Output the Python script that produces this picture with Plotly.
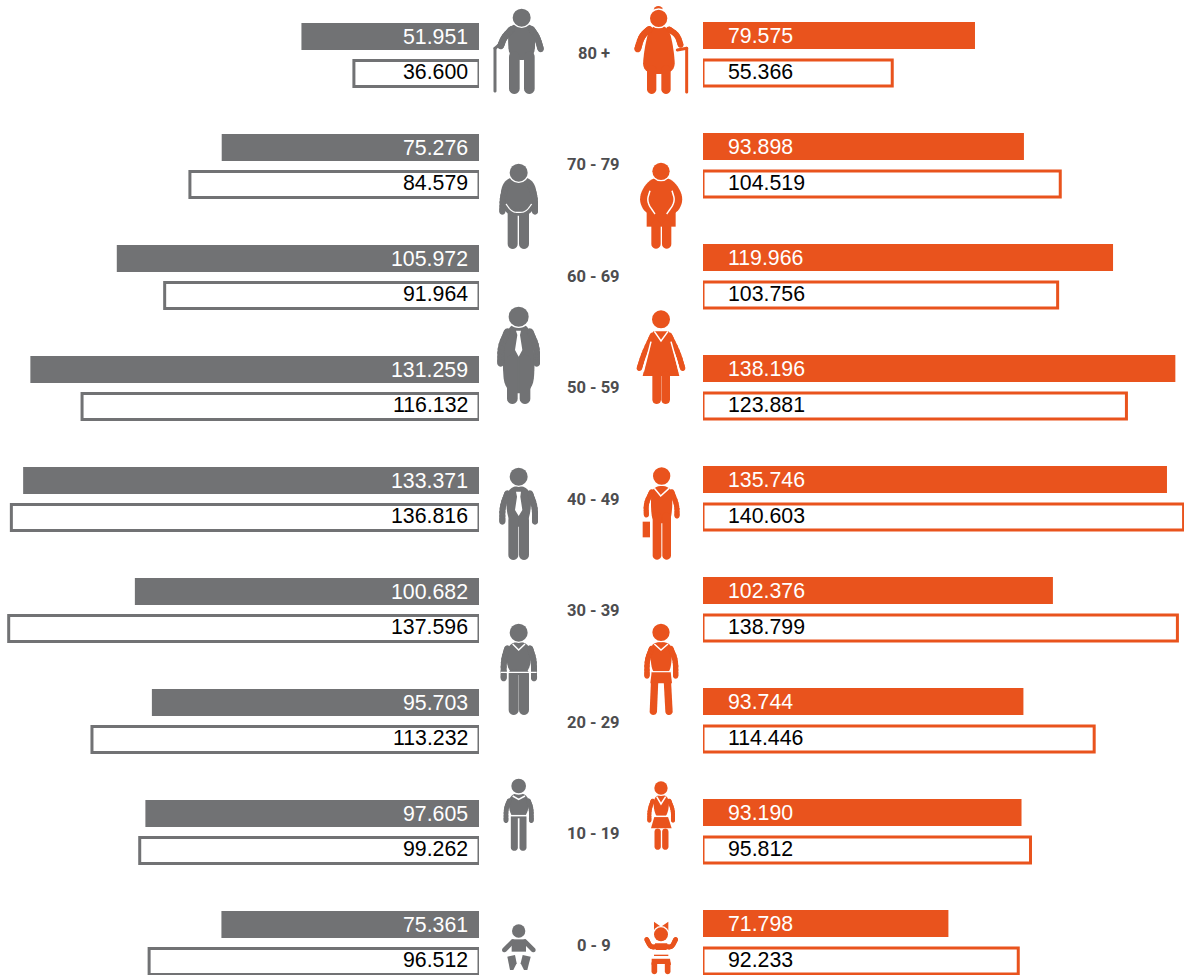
import math
import plotly.graph_objects as go

# ---------- data ----------
age_groups = ["80 +", "70 - 79", "60 - 69", "50 - 59", "40 - 49", "30 - 39", "20 - 29", "10 - 19", "0 - 9"]
male_solid = [51.951, 75.276, 105.972, 131.259, 133.371, 100.682, 95.703, 97.605, 75.361]
male_outline = [36.600, 84.579, 91.964, 116.132, 136.816, 137.596, 113.232, 99.262, 96.512]
female_solid = [79.575, 93.898, 119.966, 138.196, 135.746, 102.376, 93.744, 93.190, 71.798]
female_outline = [55.366, 104.519, 103.756, 123.881, 140.603, 138.799, 114.446, 95.812, 92.233]

GRAY = "#717274"
ORANGE = "#E9531D"
TEXT = "#4D4D4F"
W, H = 1184, 975
PX_PER_UNIT = 3.418
ZERO_L, ZERO_R = 479, 703
ROW, ROW0 = 111, 54.5


def bar(vals, color, outlined, xaxis, centre_px, h_px):
    return go.Bar(
        y=age_groups, x=vals, orientation="h", xaxis=xaxis, yaxis="y",
        width=h_px / ROW, offset=(centre_px - h_px / 2) / ROW,
        marker=dict(color="white" if outlined else color,
                    line=dict(color=color, width=3 if outlined else 0)),
        cliponaxis=False, hoverinfo="x+y", showlegend=False,
    )


fig = go.Figure([
    bar(male_solid, GRAY, False, "x", -18, 27),
    bar(male_outline, GRAY, True, "x", 19, 26),
    bar(female_solid, ORANGE, False, "x2", -19, 27),
    bar(female_outline, ORANGE, True, "x2", 18.5, 26),
])

# ---------- value labels ----------
ann = []
def labels(vals, xref, anchor, xshift, color, yshift):
    for g, v in zip(age_groups, vals):
        ann.append(dict(x=0, y=g, xref=xref, yref="y", text=f"{v:.3f}", showarrow=False,
                        xanchor=anchor, yanchor="middle", xshift=xshift, yshift=yshift,
                        font=dict(family="Liberation Sans", size=21.3, color=color)))

labels(male_solid, "x", "right", -9, "white", 18)
labels(male_outline, "x", "right", -9, "black", -17.5)
labels(female_solid, "x2", "left", 22.5, "white", 18.5)
labels(female_outline, "x2", "left", 22.5, "black", -17.5)

for i, g in enumerate(age_groups):
    ann.append(dict(x=593.5 / W, y=g, xref="paper", yref="y", text=f"<b>{g}</b>", showarrow=False,
                    xanchor="center", yanchor="middle", yshift=1.5 - 0.5 * i,
                    font=dict(family="Roboto", size=16.5, color=TEXT)))

# ---------- pictograms (drawn in 3x zoom coordinates, decoration only) ----------
def X(x): return (470 + x / 3) / W
def Y(y, oy): return 1 - (oy + y / 3) / H

shapes = []

def add_path(pts, oy, fill=None, line=None, lw=0, close=True):
    d = "M" + " L".join(f"{X(x):.5f},{Y(y, oy):.5f}" for x, y in pts) + (" Z" if close else "")
    shapes.append(dict(type="path", xref="paper", yref="paper", path=d,
                       fillcolor=fill if fill else "rgba(0,0,0,0)",
                       line=dict(color=line if line else "rgba(0,0,0,0)", width=lw)))

def circle(cx, cy, r, oy, color):
    shapes.append(dict(type="circle", xref="paper", yref="paper",
                       x0=X(cx - r), x1=X(cx + r), y0=Y(cy + r, oy), y1=Y(cy - r, oy),
                       fillcolor=color, line=dict(width=0)))

def capsule(a, b, w, oy, color):
    ang = math.atan2(b[1] - a[1], b[0] - a[0])
    r = w / 2
    pts = []
    for i in range(11):
        t = ang + math.pi / 2 + math.pi * i / 10
        pts.append((a[0] + r * math.cos(t), a[1] + r * math.sin(t)))
    for i in range(11):
        t = ang - math.pi / 2 + math.pi * i / 10
        pts.append((b[0] + r * math.cos(t), b[1] + r * math.sin(t)))
    add_path(pts, oy, fill=color)

def smooth(pts, closed=True, n=3):
    for _ in range(n):
        out = []
        m = len(pts)
        rng = range(m) if closed else range(m - 1)
        if not closed:
            out.append(pts[0])
        for i in rng:
            a, b = pts[i], pts[(i + 1) % m]
            out.append((0.75 * a[0] + 0.25 * b[0], 0.75 * a[1] + 0.25 * b[1]))
            out.append((0.25 * a[0] + 0.75 * b[0], 0.25 * a[1] + 0.75 * b[1]))
        if not closed:
            out.append(pts[-1])
        pts = out
    return pts

def draw(oy, color, prims):
    for p in prims:
        kind = p[0]
        if kind == "h":  # head with thin white ring
            circle(p[1], p[2], p[3] + 4, oy, "white")
            circle(p[1], p[2], p[3], oy, color)
        elif kind == "c":
            circle(p[1], p[2], p[3], oy, color)
        elif kind == "l":  # limb, smoothed along its bends
            pts, w = p[1], p[2]
            if len(pts) > 2:
                pts = smooth(pts, closed=False, n=2)
            for a, b in zip(pts, pts[1:]):
                capsule(a, b, w, oy, color)
        elif kind == "p":
            add_path(p[1], oy, fill=color)
        elif kind == "s":
            add_path(smooth(p[1]), oy, fill=color)
        elif kind == "wp":
            add_path(p[1], oy, fill="white")
        elif kind == "w":
            pts = p[1]
            if len(pts) > 2 and len(p) > 3:
                pts = smooth(pts, closed=False)
            add_path(pts, oy, line="white", lw=p[2], close=False)

Z1, Z2, Z3 = 0, 260, 600

# 80+
draw(Z1, GRAY, [
    ("s", [(122, 72), (188, 72), (197, 100), (193, 180), (117, 180), (113, 100)]),
    ("l", [(125, 88), (102, 112), (92, 138)], 20),
    ("l", [(185, 88), (202, 112), (212, 147)], 19),
    ("l", [(133, 170), (133, 266)], 32),
    ("l", [(178, 170), (178, 266)], 32),
    ("l", [(75, 145), (75, 273)], 9),
    ("l", [(75, 145), (92, 130)], 9),
    ("h", 155, 53, 27),
])
draw(Z1, ORANGE, [
    ("c", 565, 32, 14),
    ("s", [(540, 76), (595, 76), (612, 150), (616, 222), (517, 222), (522, 150)]),
    ("l", [(538, 88), (515, 108), (503, 147)], 20),
    ("l", [(597, 88), (622, 105), (632, 135)], 17),
    ("l", [(545, 210), (545, 268)], 28),
    ("l", [(588, 210), (588, 268)], 28),
    ("l", [(650, 145), (650, 276)], 9),
    ("l", [(650, 145), (622, 150)], 9),
    ("h", 566, 55, 26),
])
# 70-79
draw(Z1, GRAY, [
    ("s", [(112, 530), (180, 530), (204, 575), (190, 640), (146, 650), (102, 640), (88, 575)]),
    ("l", [(110, 558), (98, 590), (97, 635)], 18),
    ("l", [(182, 558), (195, 590), (195, 635)], 18),
    ("l", [(128, 635), (128, 732)], 30),
    ("l", [(162, 635), (162, 732)], 30),
    ("w", [(108, 612), (125, 635), (146, 638), (168, 635), (185, 612)], 1.2, True),
    ("h", 146, 518, 27),
])
draw(Z1, ORANGE, [
    ("s", [(540, 532), (606, 532), (645, 595), (615, 650), (532, 650), (502, 595)]),
    ("p", [(530, 630), (617, 630), (617, 680), (530, 680)]),
    ("l", [(558, 675), (558, 732)], 28),
    ("l", [(590, 675), (590, 732)], 28),
    ("w", [(540, 572), (530, 605), (555, 642)], 1.5, True),
    ("w", [(606, 572), (616, 605), (590, 642)], 1.5, True),
    ("h", 573, 514, 26),
])
# 50-59
draw(Z2, GRAY, [
    ("s", [(112, 190), (180, 190), (196, 300), (188, 400), (105, 400), (96, 300)]),
    ("l", [(112, 215), (92, 260), (92, 310)], 20),
    ("l", [(180, 215), (200, 260), (200, 310)], 20),
    ("l", [(127, 300), (127, 416)], 32),
    ("l", [(165, 300), (165, 416)], 32),
    ("wp", [(138, 212), (153, 212), (150, 225), (157, 270), (146, 290), (135, 270), (142, 225)]),
    ("h", 146, 170, 30),
])
draw(Z2, ORANGE, [
    ("p", [(550, 214), (596, 214), (628, 348), (518, 348)]),
    ("l", [(548, 225), (522, 280), (508, 325)], 16),
    ("l", [(598, 225), (625, 280), (638, 325)], 16),
    ("l", [(560, 345), (560, 419)], 26),
    ("l", [(587, 345), (587, 419)], 26),
    ("w", [(543, 245), (520, 335)], 1.5),
    ("w", [(603, 245), (628, 335)], 1.5),
    ("w", [(553, 214), (573, 243), (594, 214)], 1.5),
    ("h", 573, 178, 27),
])
# 40-49
draw(Z2, GRAY, [
    ("s", [(105, 678), (187, 678), (178, 800), (114, 800)]),
    ("l", [(112, 700), (97, 740), (97, 785)], 18),
    ("l", [(180, 700), (195, 740), (195, 785)], 18),
    ("l", [(130, 780), (130, 885)], 30),
    ("l", [(162, 780), (162, 885)], 30),
    ("wp", [(138, 695), (153, 695), (151, 710), (157, 750), (146, 768), (135, 750), (141, 710)]),
    ("h", 146, 650, 27),
])
draw(Z2, ORANGE, [
    ("s", [(545, 678), (605, 678), (608, 740), (600, 790), (548, 790), (542, 740)]),
    ("l", [(545, 695), (528, 730), (529, 765)], 15),
    ("l", [(605, 695), (621, 735), (621, 768)], 15),
    ("l", [(561, 770), (561, 886)], 26),
    ("l", [(590, 770), (590, 886)], 26),
    ("p", [(518, 785), (540, 785), (540, 832), (518, 832)]),
    ("w", [(553, 685), (572, 708), (597, 685)], 1.5),
    ("h", 575, 648, 26),
])
# 30-39
draw(Z3, GRAY, [
    ("s", [(108, 126), (185, 126), (180, 225), (112, 225)]),
    ("l", [(112, 145), (101, 180), (101, 235)], 18),
    ("l", [(180, 145), (192, 180), (192, 235)], 18),
    ("l", [(131, 222), (131, 330)], 30),
    ("l", [(162, 222), (162, 330)], 30),
    ("w", [(92, 217), (200, 217)], 1.2),
    ("w", [(128, 132), (146, 150), (165, 132)], 1.5),
    ("h", 146, 98, 27),
])
draw(Z3, ORANGE, [
    ("s", [(545, 126), (602, 126), (607, 170), (598, 225), (549, 225), (540, 170)]),
    ("l", [(545, 145), (531, 180), (531, 228)], 16),
    ("l", [(602, 145), (617, 180), (617, 228)], 16),
    ("p", [(545, 215), (602, 215), (606, 250), (541, 250)]),
    ("l", [(554, 240), (550, 334)], 22),
    ("l", [(592, 240), (597, 334)], 22),
    ("w", [(545, 215), (602, 215)], 1.2),
    ("w", [(553, 132), (573, 150), (594, 132)], 1.5),
    ("h", 573, 97, 26),
])
# 10-19
draw(Z3, GRAY, [
    ("s", [(114, 580), (179, 580), (172, 655), (120, 655)]),
    ("l", [(118, 602), (108, 625), (108, 662)], 14),
    ("l", [(175, 602), (184, 625), (184, 662)], 14),
    ("l", [(133, 650), (133, 742)], 21),
    ("l", [(159, 650), (159, 742)], 21),
    ("w", [(120, 647), (172, 647)], 1.5),
    ("w", [(128, 588), (146, 598), (165, 588)], 1.5),
    ("h", 146, 558, 22),
])
draw(Z3, ORANGE, [
    ("s", [(548, 585), (600, 585), (592, 655), (555, 655)]),
    ("l", [(548, 602), (538, 630), (538, 662)], 12),
    ("l", [(598, 602), (609, 630), (609, 662)], 12),
    ("p", [(553, 650), (594, 650), (605, 685), (543, 685)]),
    ("l", [(563, 695), (563, 740)], 19),
    ("l", [(586, 695), (586, 740)], 19),
    ("w", [(550, 649), (597, 649)], 1.5),
    ("w", [(560, 590), (573, 612), (587, 590)], 1.5),
    ("h", 573, 564, 20),
])
# 0-9
draw(Z3, GRAY, [
    ("p", [(125, 1018), (168, 1018), (168, 1055), (125, 1055)]),
    ("l", [(128, 1025), (103, 1050)], 14),
    ("l", [(165, 1025), (190, 1050)], 14),
    ("p", [(112, 1070), (135, 1065), (140, 1090), (130, 1110), (120, 1110)]),
    ("p", [(158, 1065), (182, 1070), (172, 1110), (162, 1110), (152, 1090)]),
    ("h", 146, 993, 20),
])
draw(Z3, ORANGE, [
    ("p", [(552, 965), (573, 980), (595, 965), (595, 992), (552, 992)]),
    ("l", [(530, 1018), (542, 1042), (560, 1040)], 14),
    ("l", [(617, 1018), (605, 1042), (588, 1040)], 14),
    ("p", [(555, 1030), (592, 1030), (590, 1050), (557, 1050)]),
    ("p", [(552, 1064), (595, 1064), (595, 1068), (552, 1068)]),
    ("p", [(545, 1076), (600, 1076), (603, 1095), (590, 1092), (555, 1092), (545, 1095)]),
    ("l", [(553, 1090), (553, 1114)], 17),
    ("l", [(593, 1090), (593, 1114)], 17),
    ("h", 573, 1003, 21),
])

fig.update_layout(
    width=W, height=H, margin=dict(l=0, r=0, t=0, b=0), autosize=False,
    paper_bgcolor="white", plot_bgcolor="white", barmode="overlay",
    showlegend=False, annotations=ann, shapes=shapes,
    xaxis=dict(domain=[0, ZERO_L / W], range=[ZERO_L / PX_PER_UNIT, 0], visible=False),
    xaxis2=dict(domain=[ZERO_R / W, 1], range=[0, (W - ZERO_R) / PX_PER_UNIT], visible=False),
    yaxis=dict(type="category", categoryorder="array", categoryarray=age_groups,
               range=[(H - ROW0) / ROW, -ROW0 / ROW], visible=False),
)

fig.write_html("out.html", config=dict(displayModeBar=False),
               post_script="document.body.style.margin='0';document.body.style.overflow='hidden';")
